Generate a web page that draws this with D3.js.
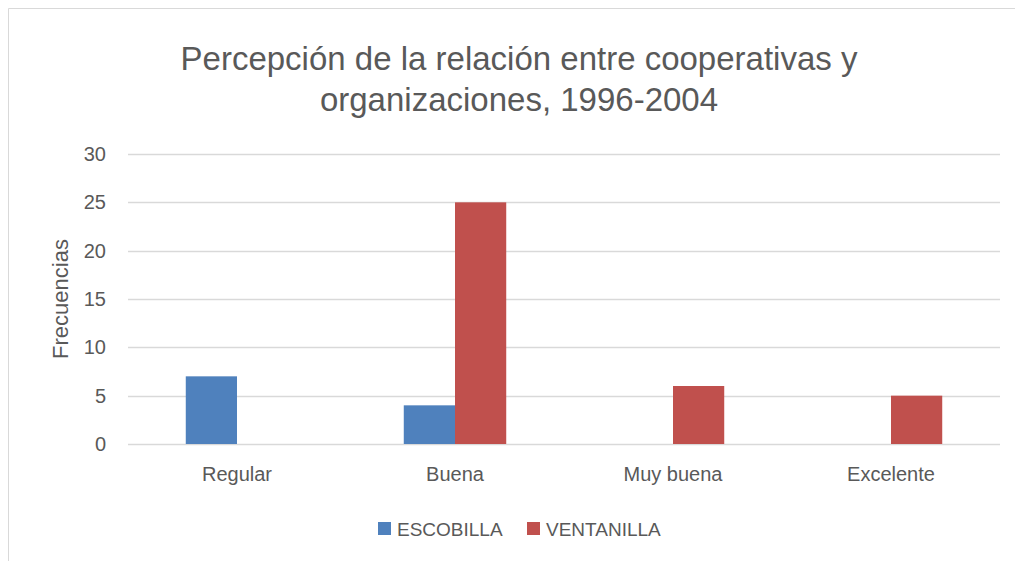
<!DOCTYPE html>
<html>
<head>
<meta charset="utf-8">
<script src="https://cdn.jsdelivr.net/npm/d3@7"></script>
<style>
  body { margin: 0; background: #fff; }
  text { font-family: "Liberation Sans", Arial, sans-serif; fill: #595959; }
</style>
</head>
<body>
<div id="chart"></div>
<script>
var categories = ["Regular", "Buena", "Muy buena", "Excelente"];
var seriesNames = ["ESCOBILLA", "VENTANILLA"];
var escobilla = [7, 4, 0, 0];
var ventanilla = [0, 25, 6, 5];
var yTicks = [0, 5, 10, 15, 20, 25, 30];

var colors = ["#4f81bd", "#c0504d"];

var width = 1015, height = 561;
var margin = {left: 128, right: 15, top: 154, bottom: 117};

var svg = d3.select("#chart").append("svg")
    .attr("width", width)
    .attr("height", height);

// chart frame (only top and left edges visible)
svg.append("path")
    .attr("d", "M8.5," + height + "V8.5H" + width)
    .attr("fill", "none")
    .attr("stroke", "#d9d9d9");

var x = d3.scaleBand()
    .domain(categories)
    .range([margin.left, width - margin.right]);

var y = d3.scaleLinear()
    .domain([0, 30])
    .range([height - margin.bottom, margin.top]);

var groupW = x.bandwidth() * 0.47;
var x1 = d3.scaleBand()
    .domain(seriesNames)
    .range([0, groupW]);

// gridlines
svg.append("g")
  .selectAll("line")
  .data(yTicks)
  .enter().append("line")
    .attr("x1", margin.left)
    .attr("x2", width - margin.right)
    .attr("y1", function(d){ return Math.round(y(d)) + 0.5; })
    .attr("y2", function(d){ return Math.round(y(d)) + 0.5; })
    .attr("stroke", "#d9d9d9")
    .attr("stroke-width", 1.5);

// y axis labels
var yAxis = d3.axisLeft(y).tickValues(yTicks).tickSize(0).tickPadding(0);
var gy = svg.append("g")
    .attr("transform", "translate(106,0)")
    .call(yAxis);
gy.select(".domain").remove();
gy.selectAll("text")
    .style("font-size", "20px")
    .style("font-family", "Liberation Sans, Arial, sans-serif")
    .attr("fill", "#595959");

// bars
var data = categories.map(function(c, i){
  return [{s: seriesNames[0], v: escobilla[i], c: c}, {s: seriesNames[1], v: ventanilla[i], c: c}];
});

svg.append("g")
  .selectAll("g")
  .data(data)
  .enter().append("g")
    .attr("transform", function(d){ return "translate(" + (x(d[0].c) + (x.bandwidth() - groupW) / 2) + ",0)"; })
  .selectAll("rect")
  .data(function(d){ return d.filter(function(e){ return e.v > 0; }); })
  .enter().append("rect")
    .attr("x", function(d){ return x1(d.s); })
    .attr("width", x1.bandwidth())
    .attr("y", function(d){ return y(d.v); })
    .attr("height", function(d){ return y(0) - y(d.v); })
    .attr("fill", function(d){ return colors[seriesNames.indexOf(d.s)]; });

// category labels
var xAxis = d3.axisBottom(x).tickSize(0).tickPadding(0);
var gx = svg.append("g")
    .attr("transform", "translate(0,467)")
    .call(xAxis);
gx.select(".domain").remove();
gx.selectAll("text")
    .style("font-size", "20px")
    .style("font-family", "Liberation Sans, Arial, sans-serif")
    .attr("fill", "#595959");

// y axis title
svg.append("text")
    .attr("transform", "translate(68,299) rotate(-90)")
    .attr("text-anchor", "middle")
    .style("font-size", "22px")
    .text("Frecuencias");

// title
var titleLines = ["Percepción de la relación entre cooperativas y", "organizaciones, 1996-2004"];
svg.append("g").selectAll("text")
  .data(titleLines)
  .enter().append("text")
    .attr("x", 519)
    .attr("y", function(d, i){ return 70 + i * 41; })
    .attr("text-anchor", "middle")
    .style("font-size", "33px")
    .text(function(d){ return d; });

// legend
var legend = svg.append("g");
var legendX = [378, 527];
seriesNames.forEach(function(s, i){
  legend.append("rect")
      .attr("x", legendX[i])
      .attr("y", 522)
      .attr("width", 13)
      .attr("height", 13)
      .attr("fill", colors[i]);
  legend.append("text")
      .attr("x", legendX[i] + 19)
      .attr("y", 536)
      .style("font-size", "19px")
      .text(s);
});
</script>
</body>
</html>
